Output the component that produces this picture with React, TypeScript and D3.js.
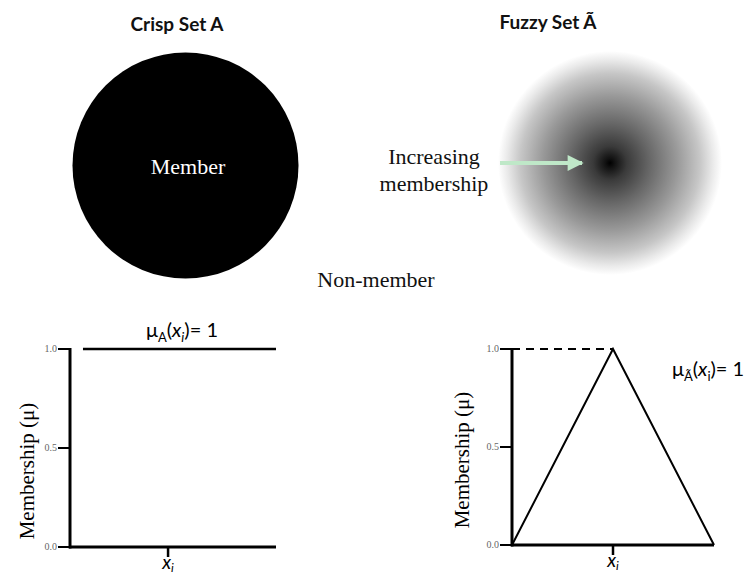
import React from "react";
import * as d3 from "d3";

const W = 747;
const H = 578;

// data
const yTicks = [0, 0.5, 1.0];
const yTickLabels = ["0.0", "0.5", "1.0"];
const crispX = [0.063, 1.0];
const crispY = [1, 1];
const fuzzyX = [0, 0.5, 1];
const fuzzyY = [0, 1, 0];
const xiPosCrisp = 0.476;
const xiPosFuzzy = 0.5;
const gradStops = [0, 0.04, 0.15, 0.35, 0.6, 0.8, 0.92, 1];
const gradGrays = ["#000", "#111", "#3a3a3a", "#666", "#999", "#c6c6c6", "#eaeaea", "#fff"];

const serif = "'Liberation Serif', 'DejaVu Serif', serif";
const sans = "Lato, 'Open Sans', sans-serif";

type PanelProps = {
  x0: number;
  x1: number;
  yTop: number;
  yBot: number;
  labelX: number;
  labelY: number;
  children?: (x: d3.ScaleLinear<number, number>, y: d3.ScaleLinear<number, number>) => React.ReactNode;
  xi: number;
};

function Panel({ x0, x1, yTop, yBot, labelX, labelY, children, xi }: PanelProps) {
  const x = d3.scaleLinear().domain([0, 1]).range([x0, x1]);
  const y = d3.scaleLinear().domain([0, 1]).range([yBot, yTop]);
  return (
    <g>
      {yTicks.map((t, i) => (
        <g key={i}>
          <line x1={x0 - 12} x2={x0} y1={y(t)} y2={y(t)} stroke="#000" strokeWidth={2} />
          <text x={x0 - 13} y={y(t)} dy="0.33em" textAnchor="end" fontFamily={serif} fontSize={10} fill="#666">
            {yTickLabels[i]}
          </text>
        </g>
      ))}
      <line x1={x0} x2={x0} y1={y(1) - 1} y2={y(0) + 1.5} stroke="#000" strokeWidth={3} />
      <line x1={x0 - 1} x2={x1} y1={y(0)} y2={y(0)} stroke="#000" strokeWidth={3} />
      <line x1={x(xi)} x2={x(xi)} y1={y(0)} y2={y(0) + 10} stroke="#000" strokeWidth={2.5} />
      <text x={x(xi)} y={y(0) + 22} textAnchor="middle" fontFamily={sans} fontSize={19} fontStyle="italic" fill="#000">
        x<tspan fontSize={12} dy={3}>i</tspan>
      </text>
      <text
        transform={`translate(${labelX},${labelY}) rotate(-90)`}
        textAnchor="middle"
        fontFamily={serif}
        fontSize={21}
        fill="#000"
      >
        Membership (μ)
      </text>
      {children && children(x, y)}
    </g>
  );
}

export default function App() {
  const line = d3.line<[number, number]>();
  return (
    <svg width={W} height={H} style={{ position: "absolute", left: 0, top: 0, background: "#fff" }}>
      <defs>
        <radialGradient id="fuzzy" cx="0.5" cy="0.5" r="0.5">
          {gradStops.map((s, i) => (
            <stop key={i} offset={s} stopColor={gradGrays[i]} />
          ))}
        </radialGradient>
        <marker id="arrowHead" viewBox="0 0 10 10" refX="9" refY="5" markerWidth="5" markerHeight="4" orient="auto" markerUnits="strokeWidth">
          <path d="M0,0 L10,5 L0,10 Z" fill="#bfe8c8" />
        </marker>
      </defs>
      <rect width={W} height={H} fill="#fff" />

      {/* titles */}
      <text x={177} y={31} textAnchor="middle" fontFamily={sans} fontWeight="bold" fontSize={19} fill="#111">
        Crisp Set A
      </text>
      <text x={548} y={29} textAnchor="middle" fontFamily={sans} fontWeight="bold" fontSize={19} fill="#111">
        Fuzzy Set Ã
      </text>

      {/* crisp circle */}
      <circle cx={185.5} cy={165.5} r={113} fill="#000" />
      <text x={188} y={174} textAnchor="middle" fontFamily={serif} fontSize={22} fill="#fff">
        Member
      </text>

      {/* fuzzy disc */}
      <circle cx={610} cy={163} r={112} fill="url(#fuzzy)" />
      <text x={434} y={164} textAnchor="middle" fontFamily={serif} fontSize={22} fill="#111">
        Increasing
      </text>
      <text x={434} y={191} textAnchor="middle" fontFamily={serif} fontSize={22} fill="#111">
        membership
      </text>
      <line x1={500} y1={163} x2={582} y2={163} stroke="#bfe8c8" strokeWidth={4} markerEnd="url(#arrowHead)" />

      <text x={376} y={287} textAnchor="middle" fontFamily={serif} fontSize={22} fill="#111">
        Non-member
      </text>

      {/* crisp membership panel */}
      <Panel x0={70} x1={276} yTop={349} yBot={547} labelX={34} labelY={471} xi={xiPosCrisp}>
        {(x, y) => (
          <path
            d={line(crispX.map((v, i) => [x(v), y(crispY[i])]) as [number, number][]) || ""}
            stroke="#000"
            strokeWidth={2.5}
            fill="none"
          />
        )}
      </Panel>
      <text x={182} y={337} textAnchor="middle" fontFamily={sans} fontSize={20} fill="#000">
        μ<tspan fontSize={13} dy={5}>A</tspan>
        <tspan dy={-5}>(</tspan>
        <tspan fontStyle="italic">x</tspan>
        <tspan fontSize={13} dy={5} fontStyle="italic">i</tspan>
        <tspan dy={-5}>)= 1</tspan>
      </text>

      {/* fuzzy membership panel */}
      <Panel x0={512} x1={714} yTop={349} yBot={545} labelX={469} labelY={460} xi={xiPosFuzzy}>
        {(x, y) => (
          <g>
            <line x1={x(0)} x2={x(0.5)} y1={y(1)} y2={y(1)} stroke="#000" strokeWidth={2} strokeDasharray="8,6" />
            <path
              d={line(fuzzyX.map((v, i) => [x(v), y(fuzzyY[i])]) as [number, number][]) || ""}
              stroke="#000"
              strokeWidth={2}
              fill="none"
              strokeLinejoin="miter"
            />
          </g>
        )}
      </Panel>
      <text x={672} y={376} textAnchor="start" fontFamily={sans} fontSize={20} fill="#000">
        μ<tspan fontSize={13} dy={5}>Ã</tspan>
        <tspan dy={-5}>(</tspan>
        <tspan fontStyle="italic">x</tspan>
        <tspan fontSize={13} dy={5}>i</tspan>
        <tspan dy={-5}>)= 1</tspan>
      </text>
    </svg>
  );
}
